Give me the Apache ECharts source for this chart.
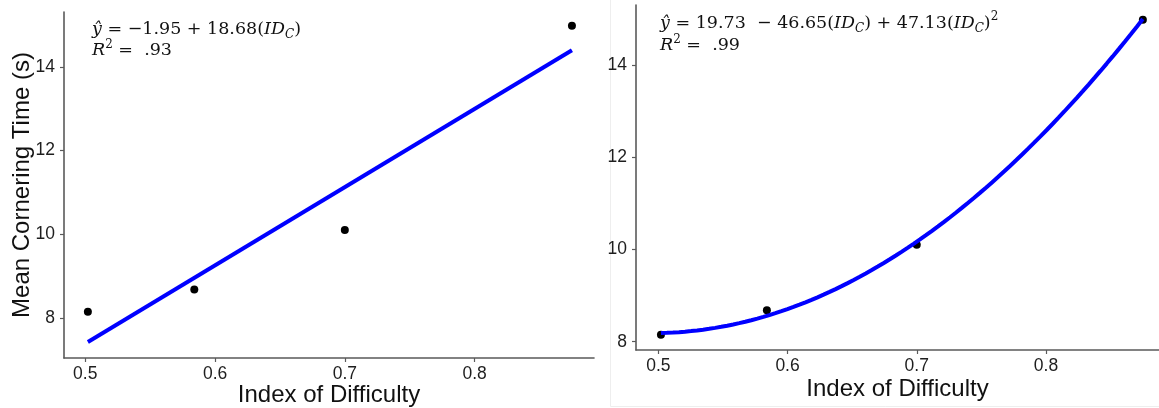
<!DOCTYPE html>
<html>
<head>
<meta charset="utf-8">
<script src="https://cdn.jsdelivr.net/npm/echarts@6/dist/echarts.min.js"></script>
<style>
  html, body { margin: 0; padding: 0; background: #fff; }
  #chart { width: 1159px; height: 408px; }
</style>
</head>
<body>
<div id="chart"></div>
<script>
// Observed mean cornering times per index of difficulty
const indexOfDifficulty = [0.502, 0.584, 0.700, 0.875];
const meanCorneringTime = [8.15, 8.68, 10.10, 14.98];

// Fitted model coefficients (intercept, linear, quadratic)
const linearCoef = [-1.95, 18.68];
const quadCoef = [19.73, -46.65, 47.13];

// Axis tick values
const xTicks = [0.5, 0.6, 0.7, 0.8];
const yTicks = [8, 10, 12, 14];

const xMinData = Math.min(...indexOfDifficulty);
const xMaxData = Math.max(...indexOfDifficulty);

function fitLine(coef, steps) {
  const pts = [];
  for (let i = 0; i <= steps; i++) {
    const x = xMinData + (xMaxData - xMinData) * i / steps;
    let y = 0;
    for (let k = 0; k < coef.length; k++) y += coef[k] * Math.pow(x, k);
    pts.push([x, y]);
  }
  return pts;
}

const points = indexOfDifficulty.map((x, i) => [x, meanCorneringTime[i]]);

const sans = 'Liberation Sans, Arial, sans-serif';
const serif = 'DejaVu Serif, serif';
const axisColor = '#5a5a5a';
const labelColor = '#1e1e1e';

function xAxis(gridIndex, min, max, nameGap) {
  return {
    type: 'value', gridIndex, min, max,
    name: 'Index of Difficulty', nameLocation: 'middle', nameGap, nameMoveOverlap: false,
    nameTextStyle: { fontFamily: sans, fontSize: 24, color: '#111' },
    axisLine: { show: true, onZero: false, lineStyle: { color: axisColor, width: 1.6 } },
    axisTick: { show: true, length: 4, customValues: xTicks, lineStyle: { color: axisColor, width: 1.2 } },
    axisLabel: { customValues: xTicks, margin: 7, fontFamily: sans, fontSize: 17.5, color: labelColor },
    splitLine: { show: false }
  };
}

function yAxis(gridIndex, min, max, withName) {
  const ax = {
    type: 'value', gridIndex, min, max,
    axisLine: { show: true, onZero: false, lineStyle: { color: axisColor, width: 1.6 } },
    axisTick: { show: true, length: 4, customValues: yTicks, lineStyle: { color: axisColor, width: 1.2 } },
    axisLabel: { customValues: yTicks, margin: 9, fontFamily: sans, fontSize: 17.5, color: labelColor },
    splitLine: { show: false }
  };
  if (withName) {
    ax.name = 'Mean Cornering Time (s)';
    ax.nameLocation = 'middle';
    ax.nameGap = 30;
    ax.nameMoveOverlap = false;
    ax.nameTextStyle = { fontFamily: sans, fontSize: 24, color: '#111' };
  }
  return ax;
}

const eqRich = {
  i: { fontFamily: serif, fontStyle: 'italic', fontSize: 17.5, color: '#111' },
  sub: { fontFamily: serif, fontStyle: 'italic', fontSize: 12, color: '#111', verticalAlign: 'bottom', lineHeight: 24 },
  sup: { fontFamily: serif, fontSize: 12, color: '#111', verticalAlign: 'top', lineHeight: 14 }
};

function eqText(x, y, text) {
  return {
    type: 'text', left: x, top: y, z: 10,
    style: {
      text, fontFamily: serif, fontSize: 17.5, fill: '#111', lineHeight: 22,
      rich: eqRich
    }
  };
}

const option = {
  backgroundColor: '#fff',
  animation: false,
  grid: [
    { left: 64, top: 12, width: 530, height: 346, outerBoundsMode: 'none' },
    { left: 636, top: 5, width: 523, height: 345, outerBoundsMode: 'none' }
  ],
  xAxis: [
    xAxis(0, 0.4836, 0.892, 25),
    xAxis(1, 0.4827, 0.8875, 27)
  ],
  yAxis: [
    yAxis(0, 7.044, 15.31, true),
    yAxis(1, 7.82, 15.30, false)
  ],
  graphic: [
    { type: 'rect', shape: { x: 610.5, y: -1, width: 560, height: 407.5 }, style: { fill: 'none', stroke: '#eeeeee', lineWidth: 1 }, z: -1 },
    eqText(92, 17, '{i|ŷ} = −1.95 + 18.68({i|ID}{sub|C})'),
    eqText(92, 39, '{i|R}{sup|2} =  .93'),
    eqText(660, 11, '{i|ŷ} = 19.73  − 46.65({i|ID}{sub|C}) + 47.13({i|ID}{sub|C}){sup|2}'),
    eqText(660, 34, '{i|R}{sup|2} =  .99')
  ],
  series: [
    { type: 'scatter', xAxisIndex: 0, yAxisIndex: 0, data: points, symbolSize: 8, itemStyle: { color: '#000', opacity: 1 } },
    { type: 'line', xAxisIndex: 0, yAxisIndex: 0, data: fitLine(linearCoef, 1), showSymbol: false, lineStyle: { color: '#0000ff', width: 4 } },
    { type: 'scatter', xAxisIndex: 1, yAxisIndex: 1, data: points, symbolSize: 8, itemStyle: { color: '#000', opacity: 1 } },
    { type: 'line', xAxisIndex: 1, yAxisIndex: 1, data: fitLine(quadCoef, 80), showSymbol: false, lineStyle: { color: '#0000ff', width: 4 } }
  ]
};

const chart = echarts.init(document.getElementById('chart'), null, { renderer: 'canvas' });
chart.setOption(option);
</script>
</body>
</html>
